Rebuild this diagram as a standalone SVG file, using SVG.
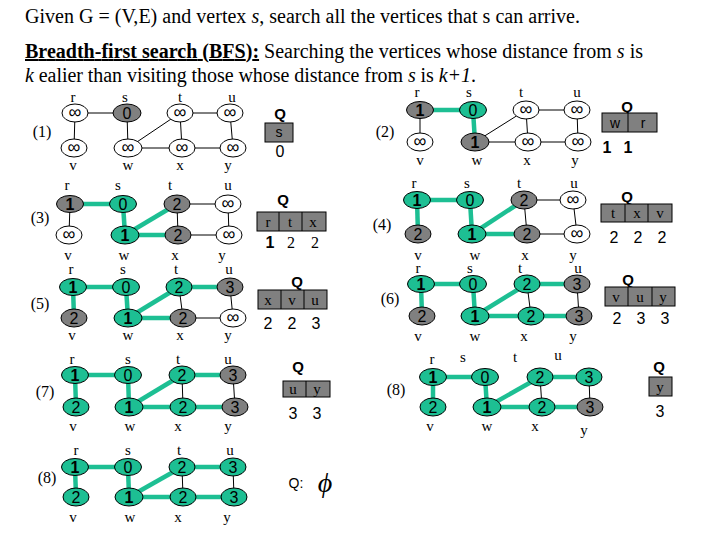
<svg xmlns="http://www.w3.org/2000/svg" width="720" height="540" viewBox="0 0 720 540">
<style>
.h{font-family:"Liberation Serif",serif;font-size:20px;fill:#000}
.lb{font-family:"Liberation Serif",serif;font-size:15px;text-anchor:middle;fill:#000}
.pn{font-family:"Liberation Serif",serif;font-size:16px;text-anchor:middle;fill:#000}
.e{stroke:#000;stroke-width:1}
.te{stroke:#1dbf93;stroke-width:4.5}
ellipse{stroke:#000;stroke-width:1}
.w{fill:#fff}.g{fill:#808080}.t{fill:#1dbf93}
.d{font-family:"Liberation Sans",Arial,sans-serif;font-size:16px;text-anchor:middle;fill:#000}
.i{font-size:18px}
.b{font-weight:bold}
.Q{font-family:"Liberation Sans",Arial,sans-serif;font-size:15px;font-weight:bold;text-anchor:middle}
.qb{fill:#808080;stroke:#000;stroke-width:1}
.qs{font-family:"Liberation Serif",serif;font-size:15px;text-anchor:middle}
.qa{font-family:"Liberation Sans",Arial,sans-serif;font-size:14px;text-anchor:middle}
</style>
<rect width="720" height="540" fill="#fff"/>
<g id="header">
<text class="h" x="25" y="23" textLength="555" lengthAdjust="spacing">Given G = (V,E) and vertex <tspan font-style="italic">s</tspan>, search all the vertices that s can arrive.</text>
<text class="h" x="25" y="58" textLength="618" lengthAdjust="spacing"><tspan font-weight="bold" text-decoration="underline">Breadth-first search (BFS):</tspan> Searching the vertices whose distance from <tspan font-style="italic">s</tspan> is</text>
<text class="h" x="25" y="82" textLength="451" lengthAdjust="spacing"><tspan font-style="italic">k</tspan> ealier than visiting those whose distance from <tspan font-style="italic">s</tspan> is <tspan font-style="italic">k+1</tspan>.</text>
</g>
<g id="connectors">
<g id="p1-edges" class="e">
<line x1="75" y1="113" x2="127" y2="113"/><line x1="75" y1="113" x2="74" y2="148"/><line x1="127" y1="113" x2="128" y2="148"/><line x1="128" y1="148" x2="180" y2="113"/><line x1="180" y1="113" x2="230" y2="113"/><line x1="180" y1="113" x2="182" y2="148"/><line x1="128" y1="148" x2="182" y2="148"/><line x1="182" y1="148" x2="233" y2="148"/><line x1="230" y1="113" x2="233" y2="148"/>
</g>
<g id="p2-edges">
<line class="te" x1="420" y1="110" x2="473" y2="110"/><line class="te" x1="473" y1="110" x2="475" y2="142"/>
<line class="e" x1="420" y1="110" x2="420" y2="142"/><line class="e" x1="475" y1="142" x2="526" y2="110"/><line class="e" x1="526" y1="110" x2="577" y2="110"/><line class="e" x1="526" y1="110" x2="528" y2="142"/><line class="e" x1="475" y1="142" x2="528" y2="142"/><line class="e" x1="528" y1="142" x2="578" y2="142"/><line class="e" x1="577" y1="110" x2="578" y2="142"/>
</g>
<g id="p3-edges">
<line class="e" x1="70" y1="204" x2="69" y2="235"/><line class="e" x1="177" y1="204" x2="228" y2="204"/><line class="e" x1="177" y1="204" x2="178" y2="235"/><line class="e" x1="178" y1="235" x2="229" y2="235"/><line class="e" x1="228" y1="204" x2="229" y2="235"/>
<line class="te" x1="70" y1="204" x2="123" y2="204"/><line class="te" x1="123" y1="204" x2="125" y2="235"/><line class="te" x1="125" y1="235" x2="177" y2="204"/><line class="te" x1="125" y1="235" x2="178" y2="235"/>
</g>
<g id="p4-edges">
<line class="e" x1="524" y1="200" x2="573" y2="200"/><line class="e" x1="524" y1="200" x2="527" y2="234"/><line class="e" x1="527" y1="234" x2="577" y2="234"/><line class="e" x1="573" y1="200" x2="577" y2="234"/>
<line class="te" x1="417" y1="200" x2="470" y2="200"/><line class="te" x1="417" y1="200" x2="418" y2="234"/><line class="te" x1="470" y1="200" x2="472" y2="234"/><line class="te" x1="472" y1="234" x2="524" y2="200"/><line class="te" x1="472" y1="234" x2="527" y2="234"/>
</g>
<g id="p5-edges">
<line class="e" x1="179" y1="287" x2="183" y2="318"/><line class="e" x1="183" y1="318" x2="233" y2="318"/><line class="e" x1="230" y1="287" x2="233" y2="318"/>
<line class="te" x1="73" y1="287" x2="126" y2="287"/><line class="te" x1="73" y1="287" x2="74" y2="318"/><line class="te" x1="126" y1="287" x2="128" y2="318"/><line class="te" x1="128" y1="318" x2="179" y2="287"/><line class="te" x1="128" y1="318" x2="183" y2="318"/><line class="te" x1="179" y1="287" x2="230" y2="287"/>
</g>
<g id="p6-edges">
<line class="e" x1="527" y1="284" x2="531" y2="316"/><line class="e" x1="577" y1="284" x2="579" y2="316"/>
<line class="te" x1="421" y1="284" x2="473" y2="284"/><line class="te" x1="421" y1="284" x2="422" y2="316"/><line class="te" x1="473" y1="284" x2="475" y2="316"/><line class="te" x1="475" y1="316" x2="527" y2="284"/><line class="te" x1="475" y1="316" x2="531" y2="316"/><line class="te" x1="527" y1="284" x2="577" y2="284"/><line class="te" x1="531" y1="316" x2="579" y2="316"/>
</g>
<g id="p7-edges">
<line class="e" x1="182" y1="375" x2="183" y2="407"/><line class="e" x1="233" y1="375" x2="235" y2="407"/>
<line class="te" x1="75" y1="375" x2="128" y2="375"/><line class="te" x1="75" y1="375" x2="76" y2="407"/><line class="te" x1="128" y1="375" x2="129" y2="407"/><line class="te" x1="129" y1="407" x2="182" y2="375"/><line class="te" x1="129" y1="407" x2="183" y2="407"/><line class="te" x1="182" y1="375" x2="233" y2="375"/><line class="te" x1="183" y1="407" x2="235" y2="407"/>
</g>
<g id="p8r-edges">
<line class="e" x1="540" y1="377" x2="542" y2="407"/><line class="e" x1="589" y1="377" x2="590" y2="407"/>
<line class="te" x1="433" y1="377" x2="485" y2="377"/><line class="te" x1="433" y1="377" x2="433" y2="407"/><line class="te" x1="485" y1="377" x2="487" y2="407"/><line class="te" x1="487" y1="407" x2="540" y2="377"/><line class="te" x1="487" y1="407" x2="542" y2="407"/><line class="te" x1="540" y1="377" x2="589" y2="377"/><line class="te" x1="542" y1="407" x2="590" y2="407"/>
</g>
<g id="p8l-edges">
<line class="e" x1="182" y1="467" x2="183" y2="497"/><line class="e" x1="233" y1="467" x2="234" y2="497"/>
<line class="te" x1="75" y1="467" x2="128" y2="467"/><line class="te" x1="75" y1="467" x2="76" y2="497"/><line class="te" x1="128" y1="467" x2="129" y2="497"/><line class="te" x1="129" y1="497" x2="182" y2="467"/><line class="te" x1="129" y1="497" x2="183" y2="497"/><line class="te" x1="182" y1="467" x2="233" y2="467"/><line class="te" x1="183" y1="497" x2="234" y2="497"/>
</g>
</g>

<!-- Panel 1 -->
<g id="p1">
<text class="pn" x="42" y="137">(1)</text>
<text class="lb" x="73" y="102">r</text><text class="lb" x="125" y="102">s</text><text class="lb" x="180" y="102">t</text><text class="lb" x="232" y="102">u</text>
<text class="lb" x="73" y="170">v</text><text class="lb" x="128" y="170">w</text><text class="lb" x="180" y="170">x</text><text class="lb" x="228" y="170">y</text>
<g id="p1-r"><ellipse class="w" cx="75" cy="113" rx="13" ry="9"/><text class="d i" x="75" y="118">∞</text></g>
<g id="p1-s"><ellipse class="g" cx="127" cy="113" rx="14" ry="9"/><text class="d" x="127" y="119">0</text></g>
<g id="p1-t"><ellipse class="w" cx="180" cy="113" rx="13" ry="9"/><text class="d i" x="180" y="118">∞</text></g>
<g id="p1-u"><ellipse class="w" cx="230" cy="113" rx="13" ry="9"/><text class="d i" x="230" y="118">∞</text></g>
<g id="p1-v"><ellipse class="w" cx="74" cy="148" rx="13" ry="9"/><text class="d i" x="74" y="153">∞</text></g>
<g id="p1-w"><ellipse class="w" cx="128" cy="148" rx="14" ry="9"/><text class="d i" x="128" y="153">∞</text></g>
<g id="p1-x"><ellipse class="w" cx="182" cy="148" rx="13" ry="9"/><text class="d i" x="182" y="153">∞</text></g>
<g id="p1-y"><ellipse class="w" cx="233" cy="148" rx="13" ry="9"/><text class="d i" x="233" y="153">∞</text></g>
<g id="p1-q"><text class="Q" x="280" y="119">Q</text><rect class="qb" x="265" y="123" width="28" height="19"/><text class="qa" x="279" y="137">s</text><text class="d" x="280" y="157">0</text></g>
</g>

<!-- Panel 2 -->
<g id="p2">
<text class="pn" x="385" y="137">(2)</text>
<text class="lb" x="417" y="97">r</text><text class="lb" x="469" y="97">s</text><text class="lb" x="521" y="97">t</text><text class="lb" x="577" y="97">u</text>
<text class="lb" x="420" y="165">v</text><text class="lb" x="477" y="165">w</text><text class="lb" x="527" y="165">x</text><text class="lb" x="575" y="165">y</text>
<g id="p2-r"><ellipse class="g" cx="420" cy="110" rx="13.5" ry="8.5"/><text class="d b" x="420" y="116">1</text></g>
<g id="p2-s"><ellipse class="t" cx="473" cy="110" rx="13.5" ry="8.5"/><text class="d" x="473" y="116">0</text></g>
<g id="p2-t"><ellipse class="w" cx="526" cy="110" rx="13" ry="9"/><text class="d i" x="526" y="115">∞</text></g>
<g id="p2-u"><ellipse class="w" cx="577" cy="110" rx="13" ry="9"/><text class="d i" x="577" y="115">∞</text></g>
<g id="p2-v"><ellipse class="w" cx="420" cy="142" rx="13" ry="9"/><text class="d i" x="420" y="147">∞</text></g>
<g id="p2-w"><ellipse class="g" cx="475" cy="142" rx="14" ry="9"/><text class="d b" x="475" y="148">1</text></g>
<g id="p2-x"><ellipse class="w" cx="528" cy="142" rx="13" ry="9"/><text class="d i" x="528" y="147">∞</text></g>
<g id="p2-y"><ellipse class="w" cx="578" cy="142" rx="13" ry="9"/><text class="d i" x="578" y="147">∞</text></g>
<g id="p2-q"><text class="Q" x="627" y="112">Q</text><rect class="qb" x="602" y="113" width="55" height="19"/><line class="e" x1="628" y1="113" x2="628" y2="132"/><text class="qa" x="615" y="128">w</text><text class="qa" x="643" y="128">r</text><text class="d b" x="607" y="153">1</text><text class="d b" x="628" y="153">1</text></g>
</g>

<!-- Panel 3 -->
<g id="p3">
<text class="pn" x="40" y="223">(3)</text>
<text class="lb" x="67" y="190">r</text><text class="lb" x="118" y="190">s</text><text class="lb" x="170" y="190">t</text><text class="lb" x="228" y="190">u</text>
<text class="lb" x="68" y="260">v</text><text class="lb" x="124" y="260">w</text><text class="lb" x="175" y="260">x</text><text class="lb" x="222" y="260">y</text>
<g id="p3-r"><ellipse class="g" cx="70" cy="204" rx="13.5" ry="8.5"/><text class="d b" x="70" y="210">1</text></g>
<g id="p3-s"><ellipse class="t" cx="123" cy="204" rx="13.5" ry="8.5"/><text class="d" x="123" y="210">0</text></g>
<g id="p3-t"><ellipse class="g" cx="177" cy="204" rx="13" ry="9"/><text class="d" x="177" y="210">2</text></g>
<g id="p3-u"><ellipse class="w" cx="228" cy="204" rx="13" ry="9"/><text class="d i" x="228" y="209">∞</text></g>
<g id="p3-v"><ellipse class="w" cx="69" cy="235" rx="13" ry="9"/><text class="d i" x="69" y="240">∞</text></g>
<g id="p3-w"><ellipse class="t" cx="125" cy="235" rx="14" ry="9"/><text class="d b" x="125" y="241">1</text></g>
<g id="p3-x"><ellipse class="g" cx="178" cy="235" rx="13" ry="9"/><text class="d" x="178" y="241">2</text></g>
<g id="p3-y"><ellipse class="w" cx="229" cy="235" rx="13" ry="9"/><text class="d i" x="229" y="240">∞</text></g>
<g id="p3-q"><text class="Q" x="283" y="205">Q</text><rect class="qb" x="257" y="212" width="69" height="19"/><line class="e" x1="279" y1="212" x2="279" y2="231"/><line class="e" x1="302" y1="212" x2="302" y2="231"/><text class="qs" x="268" y="227">r</text><text class="qs" x="290" y="227">t</text><text class="qs" x="313" y="227">x</text><text class="d b" x="270" y="248">1</text><text class="pn" x="291" y="248">2</text><text class="pn" x="315" y="248">2</text></g>
</g>

<!-- Panel 4 -->
<g id="p4">
<text class="pn" x="382" y="230">(4)</text>
<text class="lb" x="414" y="188">r</text><text class="lb" x="467" y="188">s</text><text class="lb" x="519" y="188">t</text><text class="lb" x="574" y="188">u</text>
<text class="lb" x="418" y="260">v</text><text class="lb" x="475" y="260">w</text><text class="lb" x="525" y="260">x</text><text class="lb" x="573" y="260">y</text>
<g id="p4-r"><ellipse class="t" cx="417" cy="200" rx="13.5" ry="8.5"/><text class="d b" x="417" y="206">1</text></g>
<g id="p4-s"><ellipse class="t" cx="470" cy="200" rx="13.5" ry="8.5"/><text class="d" x="470" y="206">0</text></g>
<g id="p4-t"><ellipse class="g" cx="524" cy="200" rx="13" ry="9"/><text class="d" x="524" y="206">2</text></g>
<g id="p4-u"><ellipse class="w" cx="573" cy="200" rx="13" ry="9"/><text class="d i" x="573" y="205">∞</text></g>
<g id="p4-v"><ellipse class="g" cx="418" cy="234" rx="13" ry="9"/><text class="d" x="418" y="240">2</text></g>
<g id="p4-w"><ellipse class="t" cx="472" cy="234" rx="14" ry="9"/><text class="d b" x="472" y="240">1</text></g>
<g id="p4-x"><ellipse class="g" cx="527" cy="234" rx="13" ry="9"/><text class="d" x="527" y="240">2</text></g>
<g id="p4-y"><ellipse class="w" cx="577" cy="234" rx="13" ry="9"/><text class="d i" x="577" y="239">∞</text></g>
<g id="p4-q"><text class="Q" x="627" y="202">Q</text><rect class="qb" x="601" y="204" width="71" height="18"/><line class="e" x1="625" y1="204" x2="625" y2="222"/><line class="e" x1="648" y1="204" x2="648" y2="222"/><text class="qs" x="613" y="218">t</text><text class="qs" x="637" y="218">x</text><text class="qs" x="660" y="218">v</text><text class="d" x="614" y="243">2</text><text class="d" x="638" y="243">2</text><text class="d" x="662" y="243">2</text></g>
</g>

<!-- Panel 5 -->
<g id="p5">
<text class="pn" x="40" y="309">(5)</text>
<text class="lb" x="71" y="274">r</text><text class="lb" x="123" y="274">s</text><text class="lb" x="176" y="274">t</text><text class="lb" x="229" y="274">u</text>
<text class="lb" x="72" y="340">v</text><text class="lb" x="128" y="340">w</text><text class="lb" x="180" y="340">x</text><text class="lb" x="228" y="340">y</text>
<g id="p5-r"><ellipse class="t" cx="73" cy="287" rx="13.5" ry="8.5"/><text class="d b" x="73" y="293">1</text></g>
<g id="p5-s"><ellipse class="t" cx="126" cy="287" rx="13.5" ry="8.5"/><text class="d" x="126" y="293">0</text></g>
<g id="p5-t"><ellipse class="t" cx="179" cy="287" rx="13" ry="9"/><text class="d" x="179" y="293">2</text></g>
<g id="p5-u"><ellipse class="g" cx="230" cy="287" rx="13" ry="9"/><text class="d" x="230" y="293">3</text></g>
<g id="p5-v"><ellipse class="g" cx="74" cy="318" rx="13" ry="9"/><text class="d" x="74" y="324">2</text></g>
<g id="p5-w"><ellipse class="t" cx="128" cy="318" rx="14" ry="9"/><text class="d b" x="128" y="324">1</text></g>
<g id="p5-x"><ellipse class="g" cx="183" cy="318" rx="13" ry="9"/><text class="d" x="183" y="324">2</text></g>
<g id="p5-y"><ellipse class="w" cx="233" cy="318" rx="13" ry="9"/><text class="d i" x="233" y="323">∞</text></g>
<g id="p5-q"><text class="Q" x="297" y="287">Q</text><rect class="qb" x="258" y="290" width="69" height="19"/><line class="e" x1="281" y1="290" x2="281" y2="309"/><line class="e" x1="304" y1="290" x2="304" y2="309"/><text class="qs" x="268" y="305">x</text><text class="qs" x="292" y="305">v</text><text class="qs" x="315" y="305">u</text><text class="d" x="268" y="329">2</text><text class="d" x="292" y="329">2</text><text class="d" x="316" y="329">3</text></g>
</g>

<!-- Panel 6 -->
<g id="p6">
<text class="pn" x="390" y="304">(6)</text>
<text class="lb" x="418" y="273">r</text><text class="lb" x="470" y="273">s</text><text class="lb" x="520" y="273">t</text><text class="lb" x="578" y="273">u</text>
<text class="lb" x="418" y="341">v</text><text class="lb" x="475" y="341">w</text><text class="lb" x="524" y="341">x</text><text class="lb" x="573" y="341">y</text>
<g id="p6-r"><ellipse class="t" cx="421" cy="284" rx="13.5" ry="8.5"/><text class="d b" x="421" y="290">1</text></g>
<g id="p6-s"><ellipse class="t" cx="473" cy="284" rx="13.5" ry="8.5"/><text class="d" x="473" y="290">0</text></g>
<g id="p6-t"><ellipse class="t" cx="527" cy="284" rx="13" ry="9"/><text class="d" x="527" y="290">2</text></g>
<g id="p6-u"><ellipse class="g" cx="577" cy="284" rx="13" ry="9"/><text class="d" x="577" y="290">3</text></g>
<g id="p6-v"><ellipse class="g" cx="422" cy="316" rx="13" ry="9"/><text class="d" x="422" y="322">2</text></g>
<g id="p6-w"><ellipse class="t" cx="475" cy="316" rx="14" ry="9"/><text class="d b" x="475" y="322">1</text></g>
<g id="p6-x"><ellipse class="t" cx="531" cy="316" rx="13" ry="9"/><text class="d" x="531" y="322">2</text></g>
<g id="p6-y"><ellipse class="g" cx="579" cy="316" rx="13" ry="9"/><text class="d" x="579" y="322">3</text></g>
<g id="p6-q"><text class="Q" x="628" y="285">Q</text><rect class="qb" x="605" y="287" width="70" height="19"/><line class="e" x1="628" y1="287" x2="628" y2="306"/><line class="e" x1="652" y1="287" x2="652" y2="306"/><text class="qs" x="616" y="302">v</text><text class="qs" x="640" y="302">u</text><text class="qs" x="663" y="302">y</text><text class="d" x="617" y="324">2</text><text class="d" x="641" y="324">3</text><text class="d" x="665" y="324">3</text></g>
</g>

<!-- Panel 7 -->
<g id="p7">
<text class="pn" x="45" y="397">(7)</text>
<text class="lb" x="72" y="364">r</text><text class="lb" x="128" y="364">s</text><text class="lb" x="178" y="364">t</text><text class="lb" x="228" y="364">u</text>
<text class="lb" x="73" y="431">v</text><text class="lb" x="130" y="431">w</text><text class="lb" x="178" y="431">x</text><text class="lb" x="228" y="431">y</text>
<g id="p7-r"><ellipse class="t" cx="75" cy="375" rx="13.5" ry="8.5"/><text class="d b" x="75" y="381">1</text></g>
<g id="p7-s"><ellipse class="t" cx="128" cy="375" rx="13.5" ry="8.5"/><text class="d" x="128" y="381">0</text></g>
<g id="p7-t"><ellipse class="t" cx="182" cy="375" rx="13" ry="9"/><text class="d" x="182" y="381">2</text></g>
<g id="p7-u"><ellipse class="g" cx="233" cy="375" rx="13" ry="9"/><text class="d" x="233" y="381">3</text></g>
<g id="p7-v"><ellipse class="t" cx="76" cy="407" rx="13" ry="9"/><text class="d" x="76" y="413">2</text></g>
<g id="p7-w"><ellipse class="t" cx="129" cy="407" rx="14" ry="9"/><text class="d b" x="129" y="413">1</text></g>
<g id="p7-x"><ellipse class="t" cx="183" cy="407" rx="13" ry="9"/><text class="d" x="183" y="413">2</text></g>
<g id="p7-y"><ellipse class="g" cx="235" cy="407" rx="13" ry="9"/><text class="d" x="235" y="413">3</text></g>
<g id="p7-q"><text class="Q" x="298" y="372">Q</text><rect class="qb" x="283" y="381" width="47" height="16"/><line class="e" x1="306" y1="381" x2="306" y2="397"/><text class="qs" x="293" y="394">u</text><text class="qs" x="317" y="394">y</text><text class="d" x="293" y="419">3</text><text class="d" x="317" y="419">3</text></g>
</g>

<!-- Panel 8 right -->
<g id="p8r">
<text class="pn" x="396" y="395">(8)</text>
<text class="lb" x="432" y="364">r</text><text class="lb" x="463" y="362">s</text><text class="lb" x="515" y="362">t</text><text class="lb" x="558" y="360">u</text>
<text class="lb" x="430" y="431">v</text><text class="lb" x="487" y="431">w</text><text class="lb" x="535" y="431">x</text><text class="lb" x="584" y="435">y</text>
<g id="p8r-r"><ellipse class="t" cx="433" cy="377" rx="13.5" ry="8.5"/><text class="d b" x="433" y="383">1</text></g>
<g id="p8r-s"><ellipse class="t" cx="485" cy="377" rx="13.5" ry="8.5"/><text class="d" x="485" y="383">0</text></g>
<g id="p8r-t"><ellipse class="t" cx="540" cy="377" rx="13" ry="9"/><text class="d" x="540" y="383">2</text></g>
<g id="p8r-u"><ellipse class="t" cx="589" cy="377" rx="13" ry="9"/><text class="d" x="589" y="383">3</text></g>
<g id="p8r-v"><ellipse class="t" cx="433" cy="407" rx="13" ry="9"/><text class="d" x="433" y="413">2</text></g>
<g id="p8r-w"><ellipse class="t" cx="487" cy="407" rx="14" ry="9"/><text class="d b" x="487" y="413">1</text></g>
<g id="p8r-x"><ellipse class="t" cx="542" cy="407" rx="13" ry="9"/><text class="d" x="542" y="413">2</text></g>
<g id="p8r-y"><ellipse class="g" cx="590" cy="407" rx="13" ry="9"/><text class="d" x="590" y="413">3</text></g>
<g id="p8r-q"><text class="Q" x="659" y="372">Q</text><rect class="qb" x="649" y="377" width="23" height="19"/><text class="qs" x="660" y="392">y</text><text class="d" x="660" y="417">3</text></g>
</g>

<!-- Panel 8 left -->
<g id="p8l">
<text class="pn" x="47" y="483">(8)</text>
<text class="lb" x="76" y="455">r</text><text class="lb" x="128" y="455">s</text><text class="lb" x="179" y="455">t</text><text class="lb" x="230" y="455">u</text>
<text class="lb" x="73" y="522">v</text><text class="lb" x="130" y="522">w</text><text class="lb" x="178" y="522">x</text><text class="lb" x="227" y="522">y</text>
<g id="p8l-r"><ellipse class="t" cx="75" cy="467" rx="13.5" ry="8.5"/><text class="d b" x="75" y="473">1</text></g>
<g id="p8l-s"><ellipse class="t" cx="128" cy="467" rx="13.5" ry="8.5"/><text class="d" x="128" y="473">0</text></g>
<g id="p8l-t"><ellipse class="t" cx="182" cy="467" rx="13" ry="9"/><text class="d" x="182" y="473">2</text></g>
<g id="p8l-u"><ellipse class="t" cx="233" cy="467" rx="13" ry="9"/><text class="d" x="233" y="473">3</text></g>
<g id="p8l-v"><ellipse class="t" cx="76" cy="497" rx="13" ry="9"/><text class="d" x="76" y="503">2</text></g>
<g id="p8l-w"><ellipse class="t" cx="129" cy="497" rx="14" ry="9"/><text class="d b" x="129" y="503">1</text></g>
<g id="p8l-x"><ellipse class="t" cx="183" cy="497" rx="13" ry="9"/><text class="d" x="183" y="503">2</text></g>
<g id="p8l-y"><ellipse class="t" cx="234" cy="497" rx="13" ry="9"/><text class="d" x="234" y="503">3</text></g>
<g id="p8l-q"><text class="qa" x="296" y="488" font-size="12">Q:</text><text x="325" y="492" font-family="Liberation Serif,serif" font-style="italic" font-size="28" text-anchor="middle">ϕ</text></g>
</g>
</svg>
